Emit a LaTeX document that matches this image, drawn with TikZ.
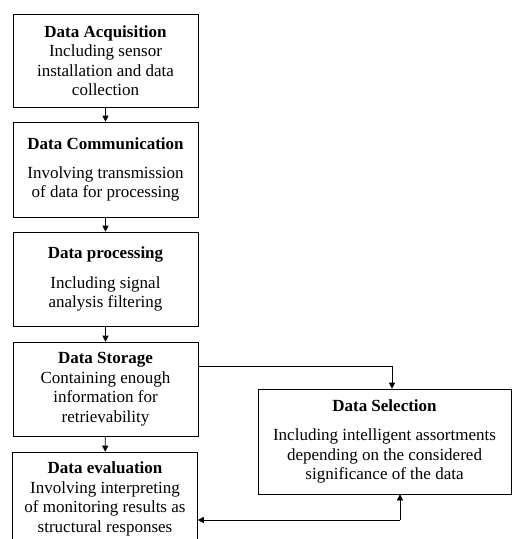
\documentclass[tikz,border=0pt]{standalone}
\usepackage{fontspec}
\setmainfont{Liberation Serif}
\usetikzlibrary{arrows.meta}
\begin{document}
\begin{tikzpicture}[x=1pt,y=-1pt,
  box/.style={draw, semithick, align=center, inner sep=0pt,
    font=\fontsize{17}{19.5}\selectfont},
  flow/.style={-{Triangle[length=6pt,width=6pt]}, semithick}]
\useasboundingbox (0,0) rectangle (512,539);
% Main column
\node[box, minimum width=185pt, minimum height=93pt] (acq) at (105.5,60.5)
  {\textbf{Data Acquisition}\\Including sensor\\installation and data\\collection};
\node[box, minimum width=185pt, minimum height=95pt] (com) at (105.5,169.5)
  {\textbf{Data Communication}\\[9pt]Involving transmission\\of data for processing};
\node[box, minimum width=185pt, minimum height=94pt] (proc) at (105.5,279)
  {\textbf{Data processing}\\[10pt]Including signal\\analysis filtering};
\node[box, minimum width=185pt, minimum height=94pt] (sto) at (105.5,389)
  {\textbf{Data Storage}\\Containing enough\\information for\\retrievability};
% bottom edge runs off the page, as in the source
\node[box, minimum width=185pt, minimum height=94pt] (eva) at (105,499)
  {\textbf{Data evaluation}\\Involving interpreting\\of monitoring results as\\structural responses};
% Side box
\node[box, minimum width=253pt, minimum height=105pt] (sel) at (384.5,441.5)
  {\textbf{Data Selection}\\[10pt]Including intelligent assortments\\depending on the considered\\significance of the data};
% Connectors
\draw[flow] (acq) -- (com);
\draw[flow] (com) -- (proc);
\draw[flow] (proc) -- (sto);
\draw[flow] (sto) -- (eva);
\draw[flow] (sto.east |- 0,366) -| (392,0 |- sel.north);
\coordinate (low) at (400,520);
\draw[flow] (low) -- (400,0 |- sel.south);
\draw[flow] (low) -- (eva.east |- low);
\end{tikzpicture}
\end{document}
